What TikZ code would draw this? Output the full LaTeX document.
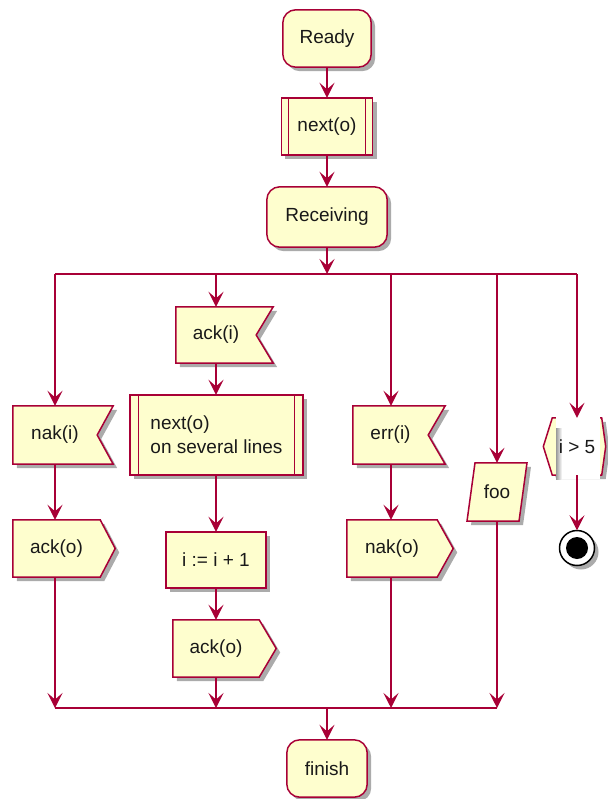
\documentclass[tikz,border=0pt]{standalone}
\usepackage{fontspec}
\setmainfont{Liberation Sans}
\usetikzlibrary{arrows.meta,shadows,backgrounds,calc}
\definecolor{pborder}{HTML}{A80036}
\definecolor{pfill}{HTML}{FEFECE}
\begin{document}
\begin{tikzpicture}[x=1pt,y=-1pt,
  bx/.style={inner sep=0pt, font=\fontsize{19}{24}\selectfont, text=black!90},
  shp/.style={draw=pborder, fill=pfill, line width=1.5pt, line join=miter,
    drop shadow={shadow xshift=4pt, shadow yshift=-4pt, opacity=0.33, fill=black}},
  ln/.style={draw=pborder, line width=1.5pt},
  arr/.style={ln, -{Stealth[length=15pt, width=15pt, inset=6.5pt]}}]
\useasboundingbox (0,0) rectangle (607,799);

% ---------- nodes ----------
\node[bx, minimum width=88pt, minimum height=57pt] (ready) at (327,38.5) {Ready};
\node[bx, minimum width=91pt, minimum height=57pt] (next1) at (327,126.5) {next(o)};
\node[bx, minimum width=120pt, minimum height=60pt] (recv) at (327,217) {Receiving};

\node[bx, minimum width=84pt, minimum height=58pt] (naki) at (55,435) {nak(i)};
\node[bx, minimum width=87pt, minimum height=57pt] (ackoL) at (56.5,548.5) {ack(o)};

\node[bx, minimum width=80pt, minimum height=56pt] (acki) at (216,335) {ack(i)};
\node[bx, minimum width=173pt, minimum height=80pt, align=left] (next2) at (216.5,435) {next(o)\\on several lines};
\node[bx, minimum width=100pt, minimum height=56pt] (iinc) at (216,560) {i := i + 1};
\node[bx, minimum width=86pt, minimum height=57pt] (ackoM) at (216,648.5) {ack(o)};

\node[bx, minimum width=75pt, minimum height=58pt] (erri) at (390.5,435) {err(i)};
\node[bx, minimum width=90pt, minimum height=57pt] (nako) at (392,548.5) {nak(o)};

\node[bx, minimum width=52pt, minimum height=58pt] (foo) at (497,492) {foo};

\node[bx, minimum width=49pt, minimum height=57pt] (hex) at (577,446.5) {i > 5};
\node[circle, inner sep=0pt, minimum size=35pt] (stop) at (577,548) {};

\node[bx, minimum width=80pt, minimum height=57pt] (finish) at (327,768.5) {finish};

% ---------- shapes (background) ----------
\begin{scope}[on background layer]
\draw[shp, rounded corners=13pt] (ready.north west) rectangle (ready.south east);
\draw[shp] (next1.north west) rectangle (next1.south east);
\draw[ln] ([xshift=7pt]next1.north west) -- ([xshift=7pt]next1.south west);
\draw[ln] ([xshift=-7pt]next1.north east) -- ([xshift=-7pt]next1.south east);
\draw[shp, rounded corners=13pt] (recv.north west) rectangle (recv.south east);

\draw[shp] (naki.north west) -- ([xshift=16pt]naki.north east) -- (naki.east)
  -- ([xshift=16pt]naki.south east) -- (naki.south west) -- cycle;
\draw[shp] (ackoL.north west) -- (ackoL.north east) -- ([xshift=15pt]ackoL.east)
  -- (ackoL.south east) -- (ackoL.south west) -- cycle;

\draw[shp] (acki.north west) -- ([xshift=17pt]acki.north east) -- (acki.east)
  -- ([xshift=17pt]acki.south east) -- (acki.south west) -- cycle;
\draw[shp] (next2.north west) rectangle (next2.south east);
\draw[ln] ([xshift=8.5pt]next2.north west) -- ([xshift=8.5pt]next2.south west);
\draw[ln] ([xshift=-8.5pt]next2.north east) -- ([xshift=-8.5pt]next2.south east);
\draw[shp] (iinc.north west) rectangle (iinc.south east);
\draw[shp] (ackoM.north west) -- (ackoM.north east) -- ([xshift=17pt]ackoM.east)
  -- (ackoM.south east) -- (ackoM.south west) -- cycle;

\draw[shp] (erri.north west) -- ([xshift=17pt]erri.north east) -- (erri.east)
  -- ([xshift=17pt]erri.south east) -- (erri.south west) -- cycle;
\draw[shp] (nako.north west) -- (nako.north east) -- ([xshift=16pt]nako.east)
  -- (nako.south east) -- (nako.south west) -- cycle;

\draw[shp] ([xshift=-22pt]foo.north) -- ([xshift=30pt]foo.north)
  -- ([xshift=22pt]foo.south) -- ([xshift=-30pt]foo.south) -- cycle;

\draw[shp] (hex.north west) -- (hex.north east) -- ([xshift=4pt]hex.east)
  -- (hex.south east) -- (hex.south west) -- ([xshift=-9pt]hex.west) -- cycle;
\fill[white] (556,415) rectangle (600,479);
\shade[left color=black!40, right color=white] (556,428) rectangle (562,479);

\draw[draw=black, fill=white, line width=1.5pt,
  drop shadow={shadow xshift=4pt, shadow yshift=-4pt, opacity=0.33, fill=black}]
  (stop.center) circle[radius=17.5pt];
\fill[black] (stop.center) circle[radius=11pt];

\draw[shp, rounded corners=13pt] (finish.north west) rectangle (finish.south east);
\end{scope}

% ---------- connectors ----------
\coordinate (sp) at (327,274);
\coordinate (s1) at (55,274);
\coordinate (s2) at (216,274);
\coordinate (s3) at (391,274);
\coordinate (s4) at (497,274);
\coordinate (s5) at (577,274);
\coordinate (j1) at (55,708);
\coordinate (j2) at (216,708);
\coordinate (j3) at (391,708);
\coordinate (j4) at (497,708);
\coordinate (jm) at (327,708);

\draw[arr] (ready.south) -- (next1.north);
\draw[arr] (next1.south) -- (recv.north);
\draw[arr] (recv.south) -- (sp);
\draw[ln] (s1) -- (s5);

\draw[arr] (s1) -- (s1 |- naki.north);
\draw[arr] (naki.south) -- (naki.south |- ackoL.north);
\draw[arr] (ackoL.south -| j1) -- (j1);

\draw[arr] (s2) -- (s2 |- acki.north);
\draw[arr] (acki.south) -- (acki.south |- next2.north);
\draw[arr] (next2.south -| iinc.north) -- (iinc.north);
\draw[arr] (iinc.south) -- (iinc.south |- ackoM.north);
\draw[arr] (ackoM.south) -- (j2);

\draw[arr] (s3) -- (s3 |- erri.north);
\draw[arr] (erri.south -| s3) -- (s3 |- nako.north);
\draw[arr] (nako.south -| j3) -- (j3);

\draw[arr] (s4) -- (s4 |- foo.north);
\draw[arr] (foo.south -| j4) -- (j4);

\draw[arr] (s5) -- (s5 |- hex.north);
\draw[arr] (s5 |- hex.south) -- (stop.north);

\draw[ln] (j1) -- (j4);
\draw[arr] (jm) -- (finish.north);
\end{tikzpicture}
\end{document}
